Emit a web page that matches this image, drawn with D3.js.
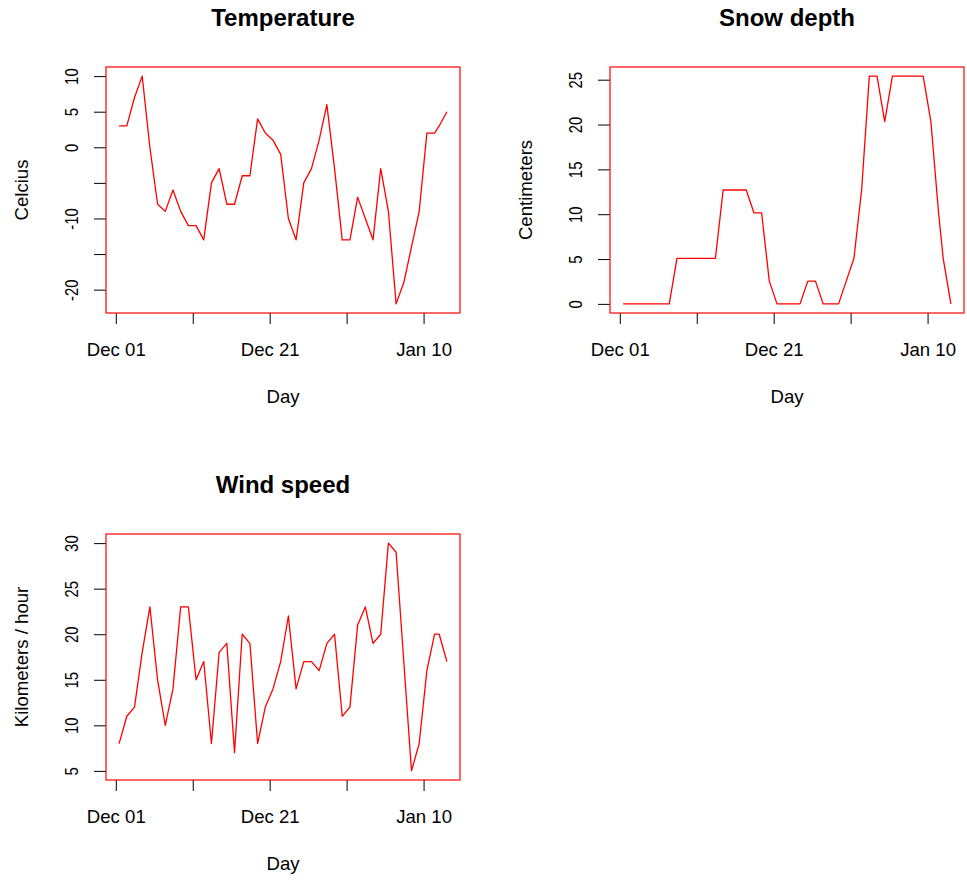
<!DOCTYPE html>
<html>
<head>
<meta charset="utf-8">
<script src="https://cdn.jsdelivr.net/npm/d3@7"></script>
<style>
  body { margin: 0; background: #fff; }
  svg { display: block; font-family: "Liberation Sans", Arial, sans-serif; }
  .tick text { font-size: 18.6px; fill: #000; font-family: "Liberation Sans", Arial, sans-serif; }
  .axis-label { font-size: 18.6px; fill: #000; }
  .plot-title { font-size: 24px; font-weight: bold; fill: #000; }
</style>
</head>
<body>
<svg width="967" height="883"></svg>
<script>
  // observation times (one per day, last two read at a different hour)
  const obsTimes = [
    '2011-12-01 10:20', '2011-12-02 10:20', '2011-12-03 10:20', '2011-12-04 10:20', '2011-12-05 10:20',
    '2011-12-06 10:20', '2011-12-07 10:20', '2011-12-08 10:20', '2011-12-09 10:20', '2011-12-10 10:20',
    '2011-12-11 10:20', '2011-12-12 10:20', '2011-12-13 10:20', '2011-12-14 10:20', '2011-12-15 10:20',
    '2011-12-16 10:20', '2011-12-17 10:20', '2011-12-18 10:20', '2011-12-19 10:20', '2011-12-20 10:20',
    '2011-12-21 10:20', '2011-12-22 10:20', '2011-12-23 10:20', '2011-12-24 10:20', '2011-12-25 10:20',
    '2011-12-26 10:20', '2011-12-27 10:20', '2011-12-28 10:20', '2011-12-29 10:20', '2011-12-30 10:20',
    '2011-12-31 10:20', '2012-01-01 10:20', '2012-01-02 10:20', '2012-01-03 10:20', '2012-01-04 10:20',
    '2012-01-05 10:20', '2012-01-06 10:20', '2012-01-07 10:20', '2012-01-08 10:20', '2012-01-09 10:20',
    '2012-01-10 10:20', '2012-01-11 10:20', '2012-01-12 00:45', '2012-01-13 00:45'
  ];

  const temperature = [3, 3, 7, 10, 0, -8, -9, -6, -9, -11, -11, -13, -5, -3, -8, -8, -4, -4, 4, 2,
    1, -1, -10, -13, -5, -3, 1, 6, -3, -13, -13, -7, -10, -13, -3, -9, -22, -19, -14, -9, 2, 2, 3, 5];

  const snowDepth = [0, 0, 0, 0, 0, 0, 0, 5.08, 5.08, 5.08, 5.08, 5.08, 5.08, 12.7, 12.7, 12.7, 12.7,
    10.16, 10.16, 2.54, 0, 0, 0, 0, 2.54, 2.54, 0, 0, 0, 2.54, 5.08, 12.7, 25.4, 25.4, 20.32,
    25.4, 25.4, 25.4, 25.4, 25.4, 20.32, 10.16, 5.08, 0];

  const windSpeed = [8, 11, 12, 18, 23, 15, 10, 14, 23, 23, 15, 17, 8, 18, 19, 7, 20, 19, 8, 12,
    14, 17, 22, 14, 17, 17, 16, 19, 20, 11, 12, 21, 23, 19, 20, 30, 29, 17, 5, 8, 16, 20, 20, 17];

  const xTickDates = ['2011-12-01', '2011-12-11', '2011-12-21', '2011-12-31', '2012-01-10'];
  const xTickLabels = ['Dec 01', '', 'Dec 21', '', 'Jan 10'];

  const tempTicks = [-20, -15, -10, -5, 0, 5, 10];
  const tempTickLabels = ['-20', '', '-10', '', '0', '5', '10'];
  const snowTicks = [0, 5, 10, 15, 20, 25];
  const snowTickLabels = ['0', '5', '10', '15', '20', '25'];
  const windTicks = [5, 10, 15, 20, 25, 30];
  const windTickLabels = ['5', '10', '15', '20', '25', '30'];

  const svg = d3.select('svg');
  const parseTime = d3.timeParse('%Y-%m-%d %H:%M');
  const parseDay = d3.timeParse('%Y-%m-%d');
  const times = obsTimes.map(parseTime);
  const tickDates = xTickDates.map(parseDay);

  const plotWidth = 354;
  const plotHeight = 246;

  // R style 4% padding on each side
  const padded = ext => {
    const pad = (ext[1] - ext[0]) * 0.04;
    return [ext[0] - pad, ext[1] + pad];
  };

  const render = ({ left, top, values, title, yLabel, yTicks, yTickLabels }) => {
    const tExt = d3.extent(times).map(d => +d);
    const xScale = d3.scaleTime()
      .domain(padded(tExt).map(v => new Date(v)))
      .range([0, plotWidth]);

    const yScale = d3.scaleLinear()
      .domain(padded(d3.extent(values)))
      .range([plotHeight, 0]);

    const g = svg.append('g')
      .attr('transform', `translate(${left}, ${top})`);

    const xAxis = d3.axisBottom(xScale)
      .tickValues(tickDates)
      .tickFormat((d, i) => xTickLabels[i])
      .tickSizeOuter(0)
      .tickSize(11)
      .tickPadding(16);

    const xAxisG = g.append('g')
      .attr('transform', `translate(0, ${plotHeight})`)
      .call(xAxis);
    xAxisG.select('.domain').remove();
    xAxisG.selectAll('line').attr('stroke', '#000');
    xAxisG.selectAll('text').attr('dy', null).attr('y', 42.5);

    const yAxis = d3.axisLeft(yScale)
      .tickValues(yTicks)
      .tickFormat((d, i) => yTickLabels[i])
      .tickSizeOuter(0)
      .tickSize(12);

    const yAxisG = g.append('g').call(yAxis);
    yAxisG.select('.domain').remove();
    yAxisG.selectAll('line').attr('stroke', '#000');
    yAxisG.selectAll('text')
      .attr('x', 0)
      .attr('dy', null)
      .attr('text-anchor', 'middle')
      .attr('transform', 'translate(-28, 0) rotate(-90) scale(0.8, 1)');

    const line = d3.line()
      .x((d, i) => xScale(times[i]))
      .y(d => yScale(d));

    g.append('path')
      .datum(values)
      .attr('fill', 'none')
      .attr('stroke', '#ff0000')
      .attr('stroke-width', 1.3)
      .attr('stroke-linejoin', 'round')
      .attr('d', line);

    g.append('rect')
      .attr('x', 0)
      .attr('y', 0)
      .attr('width', plotWidth)
      .attr('height', plotHeight)
      .attr('fill', 'none')
      .attr('stroke', '#ff0000')
      .attr('stroke-width', 1.2);

    g.append('text')
      .attr('class', 'axis-label')
      .attr('x', plotWidth / 2)
      .attr('y', plotHeight + 90)
      .attr('text-anchor', 'middle')
      .text('Day');

    g.append('text')
      .attr('class', 'axis-label')
      .attr('transform', `translate(-78, ${plotHeight / 2}) rotate(-90)`)
      .attr('text-anchor', 'middle')
      .text(yLabel);

    g.append('text')
      .attr('class', 'plot-title')
      .attr('x', plotWidth / 2)
      .attr('y', -41)
      .attr('text-anchor', 'middle')
      .text(title);
  };

  render({ left: 106, top: 67, values: temperature, title: 'Temperature', yLabel: 'Celcius',
    yTicks: tempTicks, yTickLabels: tempTickLabels });
  render({ left: 610, top: 67, values: snowDepth, title: 'Snow depth', yLabel: 'Centimeters',
    yTicks: snowTicks, yTickLabels: snowTickLabels });
  render({ left: 106, top: 534, values: windSpeed, title: 'Wind speed', yLabel: 'Kilometers / hour',
    yTicks: windTicks, yTickLabels: windTickLabels });
</script>
</body>
</html>
